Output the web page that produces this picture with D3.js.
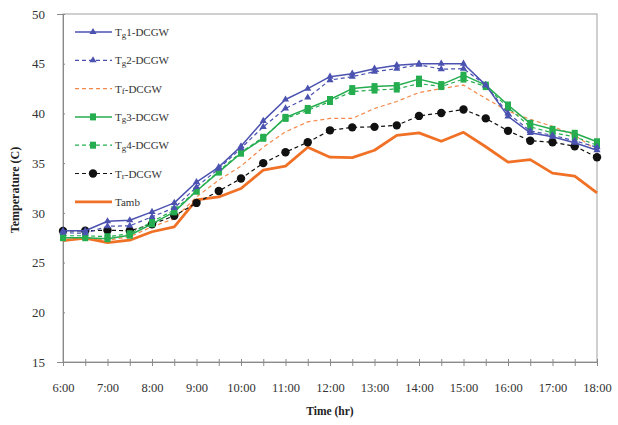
<!DOCTYPE html>
<html><head><meta charset="utf-8">
<script src="https://cdn.jsdelivr.net/npm/d3@7"></script>
<style>body{margin:0;background:#fff}svg{display:block;font-family:"Liberation Serif","Times New Roman",serif}</style>
</head><body><svg id="c" width="618" height="425"></svg>
<script>
const times = [6,6.5,7,7.5,8,8.5,9,9.5,10,10.5,11,11.5,12,12.5,13,13.5,14,14.5,15,15.5,16,16.5,17,17.5,18];
const tickHours = [6,7,8,9,10,11,12,13,14,15,16,17,18];
const tickLabels = ["6:00","7:00","8:00","9:00","10:00","11:00","12:00","13:00","14:00","15:00","16:00","17:00","18:00"];
const yTicks = [15,20,25,30,35,40,45,50];
const tg1 = [28.2,28.2,29.15,29.25,30.1,31.0,33.1,34.6,36.7,39.25,41.4,42.5,43.7,44.0,44.5,44.85,45.0,45.0,45.0,42.85,39.7,38.05,37.65,37.05,36.3];
const tg2 = [28.0,27.95,28.65,28.7,29.6,30.5,32.6,34.45,36.5,38.65,40.5,41.6,43.35,43.7,44.2,44.5,44.9,44.45,44.5,42.85,40.0,38.25,37.8,37.25,36.6];
const tf  = [27.3,27.5,27.25,27.6,28.6,29.4,31.6,33.3,34.7,36.6,38.15,39.15,39.5,39.5,40.5,41.2,42.1,42.5,42.85,41.5,40.25,39.4,38.7,37.8,36.3];
const tg3 = [27.5,27.5,27.4,27.75,28.9,30.1,32.2,34.1,36.0,37.5,39.6,40.5,41.4,42.5,42.7,42.8,43.45,42.9,43.85,42.85,40.85,39.0,38.4,38.0,37.15];
const tg4 = [27.7,27.7,27.6,27.9,29.1,30.3,32.2,34.2,36.1,37.6,39.5,40.3,41.2,42.2,42.35,42.45,43.0,42.7,43.45,42.7,40.6,38.65,38.05,37.65,36.8];
const tr  = [28.18,28.2,28.25,28.2,28.85,29.7,31.0,32.2,33.45,35.0,36.1,37.1,38.3,38.6,38.65,38.8,39.75,40.05,40.4,39.5,38.25,37.25,37.1,36.7,35.6];
const tamb= [27.2,27.45,27.0,27.25,28.1,28.6,31.3,31.6,32.45,34.3,34.7,36.6,35.6,35.55,36.3,37.8,38.05,37.2,38.1,36.65,35.1,35.35,34.0,33.7,32.0];

const series = [
  {sub:"g", rest:"1-DCGW", data:tg1, color:"#4b52b0", dash:null, w:1.5, marker:"tri"},
  {sub:"g", rest:"2-DCGW", data:tg2, color:"#4b52b0", dash:"4,3", w:1.2, marker:"tri"},
  {sub:"f", rest:"-DCGW", data:tf, color:"#f4894a", dash:"4,3", w:1.2, marker:null},
  {sub:"g", rest:"3-DCGW", data:tg3, color:"#25ad4f", dash:null, w:1.5, marker:"sq"},
  {sub:"g", rest:"4-DCGW", data:tg4, color:"#25ad4f", dash:"4,3", w:1.2, marker:"sq"},
  {sub:"r", rest:"-DCGW", data:tr, color:"#111", dash:"4,3", w:1.2, marker:"dot"},
  {name:"Tamb", data:tamb, color:"#f07126", dash:null, w:2.8, marker:null}
];

const svg = d3.select("#c");
const L=63,R=597,T=14,B=362;
const x = d3.scaleLinear().domain([6,18]).range([L,R]);
const y = d3.scaleLinear().domain([15,50]).range([B,T]);

// frame
svg.append("rect").attr("x",L).attr("y",T).attr("width",R-L).attr("height",B-T)
  .attr("fill","none").attr("stroke","#a0a0a0").attr("stroke-width",1);

// y axis
const ya = svg.append("g").attr("transform",`translate(${L},0)`)
  .call(d3.axisLeft(y).tickValues(yTicks).tickSize(6).tickPadding(12));
ya.select(".domain").attr("stroke","#8a8a8a");
ya.selectAll(".tick line").attr("stroke","#8a8a8a").attr("x2",2);
ya.selectAll("text").attr("font-size",13).attr("fill","#333").attr("font-family","Liberation Serif");

// x axis
const xa = svg.append("g").attr("transform",`translate(0,${B})`)
  .call(d3.axisBottom(x).tickValues(times).tickSize(4).tickFormat(d=>{const i=tickHours.indexOf(d);return i>=0?tickLabels[i]:"";}).tickPadding(17));
xa.select(".domain").attr("stroke","#8a8a8a");
xa.selectAll(".tick line").attr("stroke","#8a8a8a").attr("y1",-3);
xa.selectAll("text").attr("font-size",12.5).attr("fill","#333").attr("font-family","Liberation Serif");

// titles
svg.append("text").attr("x",330).attr("y",415).attr("text-anchor","middle")
  .attr("font-size",11.5).attr("font-weight","bold").attr("fill","#222").text("Time (hr)");
svg.append("text").attr("transform","translate(19,190) rotate(-90)").attr("text-anchor","middle")
  .attr("font-size",12).attr("font-weight","bold").attr("fill","#222").text("Temperature (C)");

const line = d3.line().x((d,i)=>x(times[i])).y(d=>y(d));
function marker(g, type, cx, cy, color){
  if(type==="tri") g.append("path").attr("d",d3.symbol(d3.symbolTriangle,22)()).attr("transform",`translate(${cx},${cy})`).attr("fill",color);
  else if(type==="sq") g.append("rect").attr("x",cx-3).attr("y",cy-3.5).attr("width",6).attr("height",7).attr("fill",color);
  else if(type==="dot") g.append("circle").attr("cx",cx).attr("cy",cy).attr("r",4.2).attr("fill",color);
}
const order=[6,2,5,4,3,1,0];
order.forEach(k=>{
  const s=series[k];
  const g=svg.append("g");
  g.append("path").datum(s.data).attr("d",line).attr("fill","none").attr("stroke",s.color)
    .attr("stroke-width",s.w).attr("stroke-dasharray",s.dash).attr("stroke-linejoin","round");
  if(s.marker) s.data.forEach((v,i)=>marker(g,s.marker,x(times[i]),y(v),s.color));
});

// legend
const ly0=32, ldy=28.3;
series.forEach((s,i)=>{
  const yy=ly0+i*ldy;
  const g=svg.append("g");
  g.append("line").attr("x1",75).attr("x2",112).attr("y1",yy).attr("y2",yy).attr("stroke",s.color)
    .attr("stroke-width",s.w).attr("stroke-dasharray",s.dash);
  if(s.marker) marker(g,s.marker,93,yy,s.color);
  const t=g.append("text").attr("x",115).attr("y",yy+4).attr("font-size",11).attr("fill","#333");
  if(s.name) t.text(s.name);
  else { t.append("tspan").text("T"); t.append("tspan").attr("font-size",9).attr("dy",1.5).text(s.sub); t.append("tspan").attr("dy",-1.5).text(s.rest); }
});
</script></body></html>
